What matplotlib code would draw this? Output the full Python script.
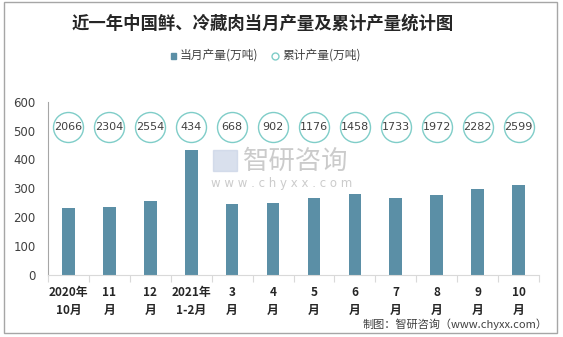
import matplotlib
matplotlib.use("Agg")
import matplotlib.pyplot as plt
from matplotlib.patches import Rectangle

plt.rcParams['font.family'] = ['Noto Sans CJK SC', 'DejaVu Sans']

categories = ["2020年\n10月", "11\n月", "12\n月", "2021年\n1-2月", "3\n月", "4\n月",
              "5\n月", "6\n月", "7\n月", "8\n月", "9\n月", "10\n月"]
monthly = [233, 237, 256, 434, 246, 250, 268, 281, 268, 277, 297, 312]
cumulative = [2066, 2304, 2554, 434, 668, 902, 1176, 1458, 1733, 1972, 2282, 2599]
yticks = [0, 100, 200, 300, 400, 500, 600]

bar_color = "#5b8fa6"
ring_color = "#7fcdc8"

fig = plt.figure(figsize=(5.63, 3.37), dpi=100)
fig.patches.append(Rectangle((0.007, 0.012), 0.982, 0.982, transform=fig.transFigure,
                             fill=False, edgecolor="#a6a6a6", linewidth=1.0))

ax = fig.add_axes([48 / 563, 1 - 275 / 337, (539 - 48) / 563, (275 - 101.7) / 337])
x = list(range(len(categories)))
ax.bar(x, monthly, width=0.31, color=bar_color, zorder=2)

# cumulative values shown as ringed labels along the top
ring_y = [514] * len(cumulative)
ax.scatter(x, ring_y, s=(30 * 0.72) ** 2, facecolor="white", edgecolor=ring_color,
           linewidth=1.0, zorder=3)
for xi, yi, c in zip(x, ring_y, cumulative):
    ax.text(xi, yi, str(c), ha="center", va="center", fontsize=8,
            color="#404040", family="DejaVu Sans", zorder=4)

ax.set_xlim(-0.5, len(categories) - 0.5)
ax.set_ylim(0, 600)
ax.set_yticks(yticks)
ax.set_yticklabels([str(t) for t in yticks], fontsize=8.5, color="#404040",
                   family="DejaVu Sans")
ax.tick_params(axis="y", length=0, pad=9)

ax.set_xticks([i - 0.5 for i in range(len(categories) + 1)], minor=False)
ax.set_xticklabels([])
ax.tick_params(axis="x", which="major", length=5, color="#d9d9d9", direction="out")
ax.set_xticks(x, minor=True)
ax.set_xticklabels(categories, minor=True, fontsize=8.5, fontweight="bold",
                   color="#262626", linespacing=1.5)
ax.tick_params(axis="x", which="minor", length=0, pad=8)

for s in ["top", "right"]:
    ax.spines[s].set_visible(False)
ax.spines["left"].set_color("#a6a6a6")
ax.spines["bottom"].set_color("#d9d9d9")

fig.text(0.466, 1 - 24 / 337, "近一年中国鲜、冷藏肉当月产量及累计产量统计图",
         ha="center", va="center", fontsize=12.5, fontweight="bold", color="#262626")

# legend
fig.patches.append(Rectangle((171 / 563, 1 - 59 / 337), 5 / 563, 6 / 337,
                             transform=fig.transFigure, color=bar_color))
fig.text(180 / 563, 1 - 55 / 337, "当月产量(万吨)", ha="left", va="center",
         fontsize=8.5, color="#404040")
fig.lines.append(plt.Line2D([275 / 563], [1 - 55.5 / 337], marker="o", markersize=5,
                            markerfacecolor="white", markeredgecolor=ring_color,
                            markeredgewidth=1.0, transform=fig.transFigure))
fig.text(282 / 563, 1 - 55 / 337, "累计产量(万吨)", ha="left", va="center",
         fontsize=8.5, color="#404040")

# watermark
fig.text(243 / 563, 1 - 161 / 337, "智研咨询", ha="left", va="center",
         fontsize=19, color="#bfbfbf", alpha=0.8)
fig.text(211 / 563, 1 - 183 / 337, "w w w . c h y x x . c o m", ha="left", va="center",
         fontsize=8.5, color="#bfbfbf", alpha=0.8, family="DejaVu Sans")
fig.patches.append(Rectangle((213 / 563, 1 - 171 / 337), 24 / 563, 21 / 337,
                             transform=fig.transFigure, color="#c9d3e6", alpha=0.7))

fig.text(548 / 563, 1 - 324 / 337, "制图：智研咨询（www.chyxx.com）", ha="right",
         va="center", fontsize=8, color="#404040")

fig.savefig("out.png", dpi=100)
